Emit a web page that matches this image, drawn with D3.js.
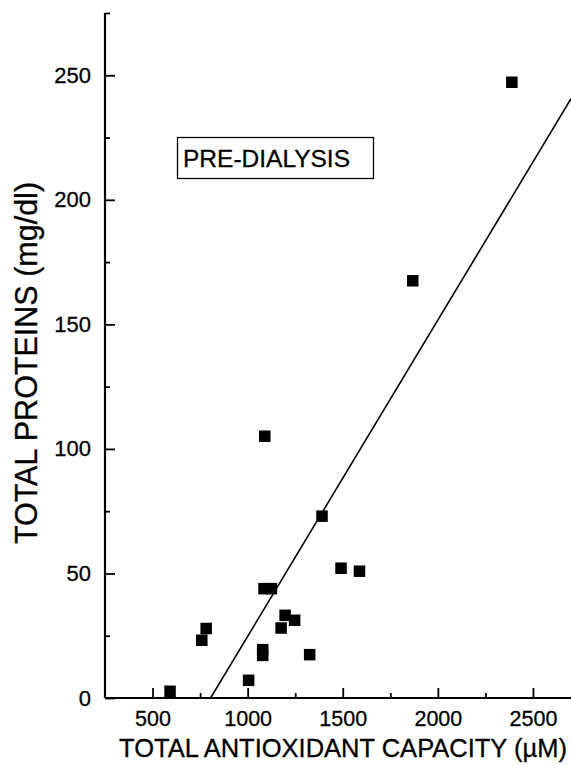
<!DOCTYPE html>
<html>
<head>
<meta charset="utf-8">
<script src="https://cdn.jsdelivr.net/npm/d3@7"></script>
<style>
  html, body { margin: 0; padding: 0; background: #fff; }
  svg { display: block; font-family: "Liberation Sans", Arial, sans-serif; }
</style>
</head>
<body>
<svg id="chart" width="571" height="765"></svg>
<script>
// Data
const tacValues = [592, 759, 782, 1005, 1079, 1079, 1086, 1090, 1125, 1176, 1197, 1247, 1326, 1391, 1491, 1588, 1868, 2389];
const proteinValues = [2.7, 23.2, 27.9, 7.1, 19.4, 17.1, 43.9, 105.1, 43.9, 28.1, 33.2, 31.2, 17.4, 73, 52.1, 50.9, 167.5, 247.2];
const fitX = [805, 2700];
const fitY = [0, 240.6];
const xTickValues = [500, 1000, 1500, 2000, 2500];
const xMinorTicks = [750, 1250, 1750, 2250];
const yTickValues = [0, 50, 100, 150, 200, 250];
const yMinorTicks = [25, 75, 125, 175, 225, 275];
const legendLabel = "PRE-DIALYSIS";
const xTitle = "TOTAL ANTIOXIDANT CAPACITY (\u00B5M)";
const yTitle = "TOTAL PROTEINS (mg/dl)";

const svg = d3.select("#chart");
const x = d3.scaleLinear().domain([250, 2700]).range([105, 571]);
const y = d3.scaleLinear().domain([0, 275]).range([698, 13]);

// Fit line
svg.append("line")
  .attr("x1", x(fitX[0])).attr("y1", y(fitY[0]))
  .attr("x2", x(fitX[1])).attr("y2", y(fitY[1]))
  .attr("stroke", "#000").attr("stroke-width", 1.6);

// Axes (ticks pointing inward)
const xAxis = svg.append("g").attr("transform", `translate(0,${y(0)})`)
  .call(d3.axisBottom(x).tickValues(xTickValues).tickSize(-10).tickPadding(15).tickFormat(d3.format("d")));
const xMinor = svg.append("g").attr("transform", `translate(0,${y(0)})`)
  .call(d3.axisBottom(x).tickValues(xMinorTicks).tickSize(-5).tickFormat(""));
const yAxis = svg.append("g").attr("transform", `translate(${x(250)},0)`)
  .call(d3.axisLeft(y).tickValues(yTickValues).tickSize(-10).tickPadding(14).tickFormat(d3.format("d")));
const yMinor = svg.append("g").attr("transform", `translate(${x(250)},0)`)
  .call(d3.axisLeft(y).tickValues(yMinorTicks).tickSize(-5).tickFormat(""));

[xAxis, xMinor, yAxis, yMinor].forEach(g => {
  g.select(".domain").attr("stroke", "#000").attr("stroke-width", 2.2);
  g.selectAll(".tick line").attr("stroke", "#000").attr("stroke-width", 1.8);
});
xMinor.select(".domain").remove();
yMinor.select(".domain").remove();
xAxis.select(".domain").attr("d", `M${x(250)},0H571`);
yAxis.select(".domain").attr("d", `M0,${y(275)}V${y(0)}`);
xAxis.selectAll(".tick text").attr("font-size", 21.5).attr("fill", "#000")
  .attr("stroke", "#000").attr("stroke-width", 0.3).attr("dy", "0.6em");
yAxis.selectAll(".tick text").attr("font-size", 22).attr("fill", "#000")
  .attr("stroke", "#000").attr("stroke-width", 0.3);

// Points
const s = 11.5;
svg.append("g").selectAll("rect")
  .data(tacValues.map((v, i) => [v, proteinValues[i]]))
  .join("rect")
  .attr("x", d => x(d[0]) - s / 2)
  .attr("y", d => y(d[1]) - s / 2)
  .attr("width", s).attr("height", s)
  .attr("fill", "#000");

// Legend box
const lg = svg.append("g");
lg.append("rect")
  .attr("x", 177.5).attr("y", 137.5)
  .attr("width", 196).attr("height", 41)
  .attr("fill", "none").attr("stroke", "#000").attr("stroke-width", 1.3);
lg.append("text").attr("x", 183).attr("y", 167)
  .attr("font-size", 24.5).attr("fill", "#000")
  .attr("stroke", "#000").attr("stroke-width", 0.3).text(legendLabel);

// Axis titles
svg.append("text").attr("x", 343).attr("y", 757).attr("text-anchor", "middle")
  .attr("font-size", 25.5).attr("fill", "#000")
  .attr("stroke", "#000").attr("stroke-width", 0.3).text(xTitle);
svg.append("text").attr("transform", "translate(37,363) rotate(-90)")
  .attr("text-anchor", "middle").attr("font-size", 30.5).attr("fill", "#000")
  .attr("stroke", "#000").attr("stroke-width", 0.3).text(yTitle);
</script>
</body>
</html>
